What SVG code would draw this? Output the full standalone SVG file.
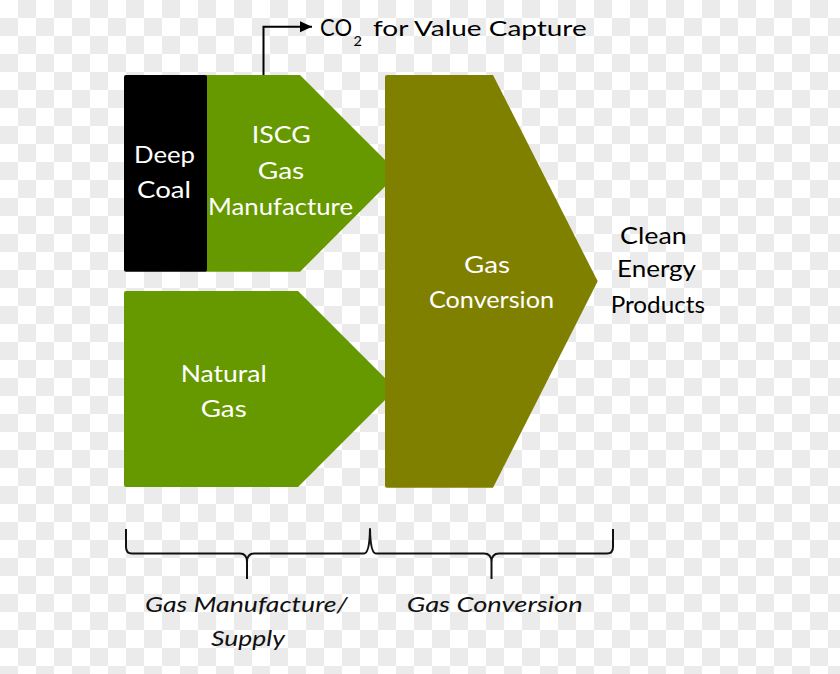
<svg xmlns="http://www.w3.org/2000/svg" width="840" height="674" viewBox="0 0 840 674">
  <defs>
    <pattern id="checker" x="0" y="0" width="36" height="36" patternUnits="userSpaceOnUse">
      <rect x="0" y="0" width="36" height="36" fill="#ffffff"/>
      <rect x="18" y="0" width="18" height="18" fill="#ebebeb"/>
      <rect x="0" y="18" width="18" height="18" fill="#ebebeb"/>
    </pattern>
    <marker id="arrow" markerUnits="userSpaceOnUse" markerWidth="13" markerHeight="12" refX="12" refY="5.5" orient="auto">
      <path d="M0,0 L12,5.5 L0,11 Z" fill="#000"/>
    </marker>
    <style>
      .lbl { font-family: Lato, "Open Sans", "Liberation Sans", sans-serif; font-size: 23px; }
      .w { fill: #ffffff; }
      .k { fill: #000000; }
      .it { font-style: italic; font-size: 22px; fill: #111111; }
      .green { fill: #669900; }
      .olive { fill: #808000; }
      .conn { fill: none; stroke: #000; stroke-width: 2; }
      .brace { fill: none; stroke: #111; stroke-width: 2; stroke-linejoin: round; stroke-linecap: butt; }
    </style>
  </defs>

  <rect x="0" y="0" width="840" height="674" fill="url(#checker)"/>

  <g id="node-iscg">
    <path class="green" d="M205,75 H300 L398.3,173.3 L300,271.7 H205 Z"/>
    <text class="lbl w" x="251.7" y="143.3" textLength="59" lengthAdjust="spacingAndGlyphs">ISCG</text>
    <text class="lbl w" x="257.7" y="179.3" textLength="46.6" lengthAdjust="spacingAndGlyphs">Gas</text>
    <text class="lbl w" x="208" y="215" textLength="145" lengthAdjust="spacingAndGlyphs">Manufacture</text>
  </g>

  <g id="node-deep-coal">
    <rect x="124" y="75" width="83" height="196.7" rx="2" fill="#000"/>
    <text class="lbl w" x="134" y="163.3" textLength="61" lengthAdjust="spacingAndGlyphs">Deep</text>
    <text class="lbl w" x="137" y="198.3" textLength="54" lengthAdjust="spacingAndGlyphs">Coal</text>
  </g>

  <g id="node-natural-gas">
    <path class="green" d="M126,291 H298 L396,389 L298,487 H126 Q124,487 124,485 V293 Q124,291 126,291 Z"/>
    <text class="lbl w" x="180.7" y="381.7" textLength="86" lengthAdjust="spacingAndGlyphs">Natural</text>
    <text class="lbl w" x="200.7" y="416.7" textLength="46" lengthAdjust="spacingAndGlyphs">Gas</text>
  </g>

  <g id="node-gas-conversion">
    <path class="olive" d="M387,75 H493 L597.7,281.3 L493,487.7 H387 Q385,487.7 385,485.7 V77 Q385,75 387,75 Z"/>
    <text class="lbl w" x="464" y="273.3" textLength="46" lengthAdjust="spacingAndGlyphs">Gas</text>
    <text class="lbl w" x="429" y="308.3" textLength="125" lengthAdjust="spacingAndGlyphs">Conversion</text>
  </g>

  <g id="node-clean-energy">
    <text class="lbl k" x="620" y="244.3" textLength="66.7" lengthAdjust="spacingAndGlyphs">Clean</text>
    <text class="lbl k" x="617" y="276.7" textLength="79" lengthAdjust="spacingAndGlyphs">Energy</text>
    <text class="lbl k" x="610.7" y="312.7" textLength="94.3" lengthAdjust="spacingAndGlyphs">Products</text>
  </g>

  <g id="node-co2">
    <text class="lbl k" x="320" y="35.7" font-size="21" textLength="32" lengthAdjust="spacingAndGlyphs">CO</text>
    <text class="lbl k" x="353.5" y="46" style="font-size:14px" textLength="8.5" lengthAdjust="spacingAndGlyphs">2</text>
    <text class="lbl k" x="373" y="35.7" style="font-size:21px" textLength="213.7" lengthAdjust="spacingAndGlyphs">for Value Capture</text>
  </g>

  <g id="connectors">
    <path class="conn" d="M263.5,75 V26.7 H312" marker-end="url(#arrow)"/>
  </g>

  <g id="braces">
    <path class="brace" d="M126,529 V547 Q126,553.5 132,553.5 H240 Q247,553.5 247,562 V579 M247,562 Q247,553.5 254,553.5 H364 Q369.5,553.5 370,529 Q370.5,553.5 376,553.5 H484 Q491.5,553.5 491.5,562 V579 M491.5,562 Q491.5,553.5 499,553.5 H607 Q613,553.5 613,547 V529"/>
    <text class="lbl it" x="145" y="611.7" textLength="202.7" lengthAdjust="spacingAndGlyphs">Gas Manufacture/</text>
    <text class="lbl it" x="211" y="646" textLength="74" lengthAdjust="spacingAndGlyphs">Supply</text>
    <text class="lbl it" x="406.7" y="611.7" textLength="176" lengthAdjust="spacingAndGlyphs">Gas Conversion</text>
  </g>
</svg>
